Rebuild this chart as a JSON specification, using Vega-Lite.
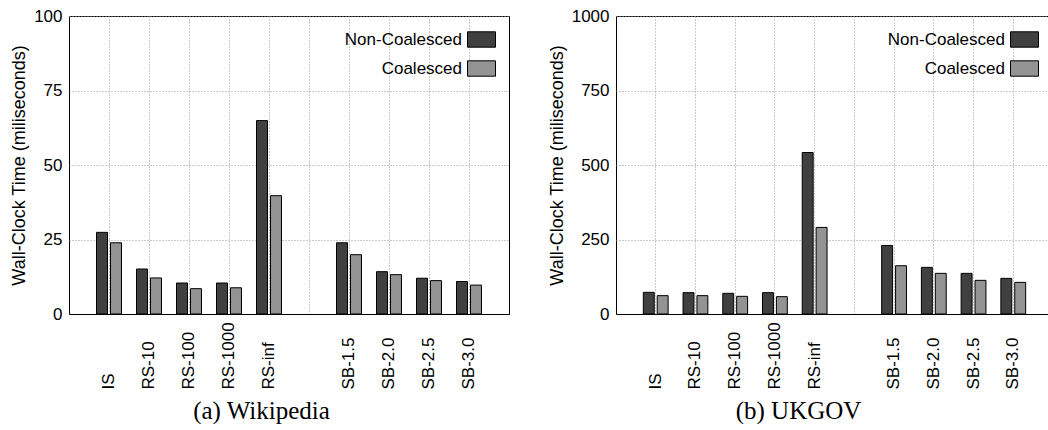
{
  "$schema": "https://vega.github.io/schema/vega-lite/v6.json",
  "background": "white",
  "padding": {"left": 10, "top": 6, "right": 0, "bottom": 0},
  "datasets": {
    "wiki": [
      {"method": "IS", "type": "Non-Coalesced", "time": 27.4},
      {"method": "IS", "type": "Coalesced", "time": 23.9},
      {"method": "RS-10", "type": "Non-Coalesced", "time": 15.1},
      {"method": "RS-10", "type": "Coalesced", "time": 12.1},
      {"method": "RS-100", "type": "Non-Coalesced", "time": 10.4},
      {"method": "RS-100", "type": "Coalesced", "time": 8.5},
      {"method": "RS-1000", "type": "Non-Coalesced", "time": 10.4},
      {"method": "RS-1000", "type": "Coalesced", "time": 8.8},
      {"method": "RS-inf", "type": "Non-Coalesced", "time": 64.9},
      {"method": "RS-inf", "type": "Coalesced", "time": 39.7},
      {"method": "SB-1.5", "type": "Non-Coalesced", "time": 23.9},
      {"method": "SB-1.5", "type": "Coalesced", "time": 19.9},
      {"method": "SB-2.0", "type": "Non-Coalesced", "time": 14.2},
      {"method": "SB-2.0", "type": "Coalesced", "time": 13.2},
      {"method": "SB-2.5", "type": "Non-Coalesced", "time": 12.0},
      {"method": "SB-2.5", "type": "Coalesced", "time": 11.2},
      {"method": "SB-3.0", "type": "Non-Coalesced", "time": 10.9},
      {"method": "SB-3.0", "type": "Coalesced", "time": 9.7}
    ],
    "ukgov": [
      {"method": "IS", "type": "Non-Coalesced", "time": 72.7},
      {"method": "IS", "type": "Coalesced", "time": 61.6},
      {"method": "RS-10", "type": "Non-Coalesced", "time": 71.6},
      {"method": "RS-10", "type": "Coalesced", "time": 61.6},
      {"method": "RS-100", "type": "Non-Coalesced", "time": 69.4},
      {"method": "RS-100", "type": "Coalesced", "time": 59.3},
      {"method": "RS-1000", "type": "Non-Coalesced", "time": 71.6},
      {"method": "RS-1000", "type": "Coalesced", "time": 58.2},
      {"method": "RS-inf", "type": "Non-Coalesced", "time": 541.9},
      {"method": "RS-inf", "type": "Coalesced", "time": 290.5},
      {"method": "SB-1.5", "type": "Non-Coalesced", "time": 230},
      {"method": "SB-1.5", "type": "Coalesced", "time": 162},
      {"method": "SB-2.0", "type": "Non-Coalesced", "time": 156.5},
      {"method": "SB-2.0", "type": "Coalesced", "time": 136.4},
      {"method": "SB-2.5", "type": "Non-Coalesced", "time": 136.4},
      {"method": "SB-2.5", "type": "Coalesced", "time": 112.9},
      {"method": "SB-3.0", "type": "Non-Coalesced", "time": 119.6},
      {"method": "SB-3.0", "type": "Coalesced", "time": 106.2}
    ]
  },
  "spacing": 37,
  "hconcat": [
    {
      "width": 440,
      "height": 298,
      "data": {"name": "wiki"},
      "mark": {"type": "bar", "stroke": "black", "strokeWidth": 1},
      "encoding": {
        "x": {
          "field": "method", "type": "nominal",
          "scale": {"domain": ["IS", "RS-10", "RS-100", "RS-1000", "RS-inf", " ", "SB-1.5", "SB-2.0", "SB-2.5", "SB-3.0"], "paddingInner": 0, "paddingOuter": 0.5},
          "axis": {
            "title": "(a) Wikipedia", "labelAngle": -90, "labelAlign": "left", "labelBaseline": "middle", "labelPadding": 75,
            "ticks": false, "grid": true, "domain": true, "domainColor": "black", "domainWidth": 1,
            "titleFont": "Liberation Serif", "titleFontSize": 25, "titleFontWeight": "normal",
            "titleX": 192, "titleY": 104, "titleBaseline": "alphabetic", "titleAlign": "center"
          }
        },
        "xOffset": {"field": "type", "type": "nominal", "scale": {"domain": ["Non-Coalesced", "Coalesced"], "paddingInner": 0.214, "paddingOuter": 0.536}},
        "y": {
          "field": "time", "type": "quantitative",
          "scale": {"domain": [0, 100], "nice": false},
          "axis": {"title": "Wall-Clock Time (miliseconds)", "values": [0, 25, 50, 75, 100], "format": "d", "ticks": false, "domain": false, "labelPadding": 7, "titlePadding": 5}
        },
        "fill": {
          "field": "type", "type": "nominal",
          "scale": {"domain": ["Non-Coalesced", "Coalesced"], "range": ["#404040", "#939393"]},
          "legend": {"orient": "none", "legendX": 398, "legendY": 9, "title": null}
        }
      }
    },
    {
      "width": 437,
      "height": 298,
      "data": {"name": "ukgov"},
      "mark": {"type": "bar", "stroke": "black", "strokeWidth": 1},
      "encoding": {
        "x": {
          "field": "method", "type": "nominal",
          "scale": {"domain": ["IS", "RS-10", "RS-100", "RS-1000", "RS-inf", " ", "SB-1.5", "SB-2.0", "SB-2.5", "SB-3.0"], "paddingInner": 0, "paddingOuter": 0.5},
          "axis": {
            "title": "(b) UKGOV", "labelAngle": -90, "labelAlign": "left", "labelBaseline": "middle", "labelPadding": 75,
            "ticks": false, "grid": true, "domain": true, "domainColor": "black", "domainWidth": 1,
            "titleFont": "Liberation Serif", "titleFontSize": 25, "titleFontWeight": "normal",
            "titleX": 182, "titleY": 104, "titleBaseline": "alphabetic", "titleAlign": "center"
          }
        },
        "xOffset": {"field": "type", "type": "nominal", "scale": {"domain": ["Non-Coalesced", "Coalesced"], "paddingInner": 0.214, "paddingOuter": 0.536}},
        "y": {
          "field": "time", "type": "quantitative",
          "scale": {"domain": [0, 1000], "nice": false},
          "axis": {"title": "Wall-Clock Time (miliseconds)", "values": [0, 250, 500, 750, 1000], "format": "d", "ticks": false, "domain": false, "labelPadding": 7, "titlePadding": 5}
        },
        "fill": {
          "field": "type", "type": "nominal",
          "scale": {"domain": ["Non-Coalesced", "Coalesced"], "range": ["#404040", "#939393"]},
          "legend": {"orient": "none", "legendX": 394, "legendY": 9, "title": null}
        }
      }
    }
  ],
  "resolve": {"scale": {"x": "independent", "y": "independent", "fill": "independent", "xOffset": "independent"}, "legend": {"fill": "independent"}},
  "config": {
    "font": "Liberation Sans",
    "view": {"stroke": "black", "strokeWidth": 1},
    "axis": {
      "labelFont": "Liberation Sans", "labelFontSize": 17, "labelColor": "black",
      "titleFont": "Liberation Sans", "titleFontSize": 18, "titleFontWeight": "normal", "titleColor": "black",
      "gridColor": "#999999", "gridDash": [1, 2], "gridOpacity": 1, "gridWidth": 1
    },
    "legend": {
      "symbolType": "M-1,-0.55H1V0.55H-1Z", "symbolSize": 784, "symbolStrokeColor": "black", "symbolStrokeWidth": 1,
      "symbolOffset": 0, "labelAlign": "right", "labelOffset": -34, "labelFont": "Liberation Sans", "labelFontSize": 17,
      "labelColor": "black", "labelLimit": 300, "rowPadding": 4, "padding": 0, "symbolOpacity": 1
    }
  }
}
